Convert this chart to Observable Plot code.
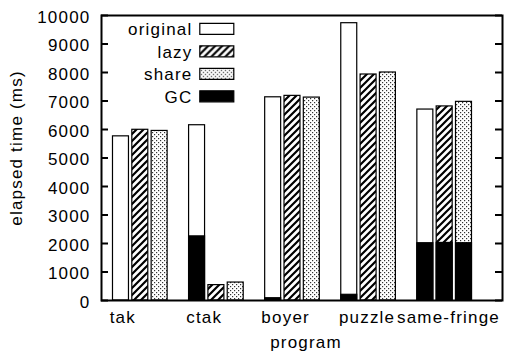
<!DOCTYPE html>
<html>
<head>
<meta charset="utf-8">
<script src="https://cdn.jsdelivr.net/npm/d3@7"></script>
<script src="https://cdn.jsdelivr.net/npm/@observablehq/plot@0.6"></script>
<style>
  html, body { margin: 0; padding: 0; background: #fff; }
</style>
</head>
<body>
<div id="chart"></div>
<script>
const programs = ["tak", "ctak", "boyer", "puzzle", "same-fringe"];
const seriesNames = ["original", "lazy", "share"];
const original = [5760, 6150, 7130, 9730, 6700];
const lazy = [5990, 540, 7180, 7930, 6810];
const share = [5950, 630, 7120, 8000, 6970];
const gcOriginal = [0, 2250, 80, 200, 2010];
const gcLazy = [0, 0, 0, 0, 2020];
const gcShare = [0, 0, 0, 0, 2010];
const yTicks = [0, 1000, 2000, 3000, 4000, 5000, 6000, 7000, 8000, 9000, 10000];
const legendLabels = ["original", "lazy", "share", "GC"];

const totals = [original, lazy, share];
const gcs = [gcOriginal, gcLazy, gcShare];
const fills = ["white", "url(#hatch)", "url(#dots)"];
const offsets = [-0.254, 0, 0.254];
const half = 0.105;

const W = 506, H = 355, mL = 101, mR = 4, mT = 15, mB = 55;
const frameW = W - mL - mR;

const marks = [];
seriesNames.forEach((s, k) => {
  const rows = programs.map((p, i) => ({i, p, total: totals[k][i], gc: gcs[k][i]}));
  marks.push(Plot.rectY(rows, {
    x1: d => d.i + offsets[k] - half,
    x2: d => d.i + offsets[k] + half,
    y1: 0, y2: "total",
    fill: fills[k], stroke: "black", strokeWidth: 1.2
  }));
  marks.push(Plot.rectY(rows.filter(d => d.gc > 0), {
    x1: d => d.i + offsets[k] - half,
    x2: d => d.i + offsets[k] + half,
    y1: 0, y2: "gc",
    fill: "black", stroke: "black", strokeWidth: 1.2
  }));
});

// y ticks inward on left and right
marks.push(Plot.tickY(yTicks, {y: d => d, insetRight: frameW - 7, strokeWidth: 2, stroke: "black"}));
marks.push(Plot.tickY(yTicks, {y: d => d, insetLeft: frameW - 7, strokeWidth: 2, stroke: "black"}));
marks.push(Plot.axisY({ticks: yTicks, tickFormat: d => String(d), tickSize: 0, tickPadding: 11, label: null, dy: 2, fill: "black"}));

// x labels
marks.push(Plot.text(programs, {
  x: (d, i) => i * 1.07 - 0.23, y: 0,
  text: d => d, dy: 22, lineAnchor: "bottom", textAnchor: "middle", fill: "black"
}));

// axis titles
marks.push(Plot.text(["program"], {frameAnchor: "bottom", textAnchor: "middle", dx: 4, dy: 47, lineAnchor: "bottom", fill: "black"}));
marks.push(Plot.text(["elapsed time (ms)"], {frameAnchor: "left", textAnchor: "middle", dx: -85, dy: -10, rotate: -90, fill: "black", letterSpacing: "0.4px"}));

// legend
const legendFills = ["white", "url(#hatch)", "url(#dots)", "black"];
const rectSymbol = {draw(ctx) { ctx.rect(-17, -5.5, 34, 11); }};
legendLabels.forEach((lab, r) => {
  const dy = 13.3 + r * 22.5;
  marks.push(Plot.text([lab], {frameAnchor: "top-left", dx: 91, dy: dy + 1, textAnchor: "end", lineAnchor: "middle", fill: "black"}));
  marks.push(Plot.dot([lab], {frameAnchor: "top-left", dx: 115.3, dy, symbol: rectSymbol, fill: legendFills[r], stroke: "black", strokeWidth: 1.2}));
});

marks.push(Plot.frame({stroke: "black", strokeWidth: 2}));

const svg = Plot.plot({
  width: W, height: H,
  marginLeft: mL, marginRight: mR, marginTop: mT, marginBottom: mB,
  x: {type: "linear", domain: [-0.51, 4.76], axis: null},
  y: {domain: [0, 10000], axis: null},
  style: {fontFamily: "'Liberation Sans', Arial, sans-serif", fontSize: "17px", letterSpacing: "1.2px", background: "white", color: "black", overflow: "visible"},
  marks
});

const ns = "http://www.w3.org/2000/svg";
const defs = document.createElementNS(ns, "defs");
defs.innerHTML = `
<pattern id="hatch" patternUnits="userSpaceOnUse" width="7" height="7">
  <rect width="7" height="7" fill="white"/>
  <path d="M-1,8 L8,-1 M-3.5,3.5 L3.5,-3.5 M3.5,10.5 L10.5,3.5" stroke="black" stroke-width="2.2"/>
</pattern>
<pattern id="dots" patternUnits="userSpaceOnUse" width="4" height="4">
  <rect width="4" height="4" fill="white"/>
  <rect x="0" y="0" width="1.2" height="1.2" fill="#333"/>
  <rect x="2" y="2" width="1.2" height="1.2" fill="#333"/>
</pattern>`;
svg.insertBefore(defs, svg.firstChild);
document.getElementById("chart").appendChild(svg);
</script>
</body>
</html>
